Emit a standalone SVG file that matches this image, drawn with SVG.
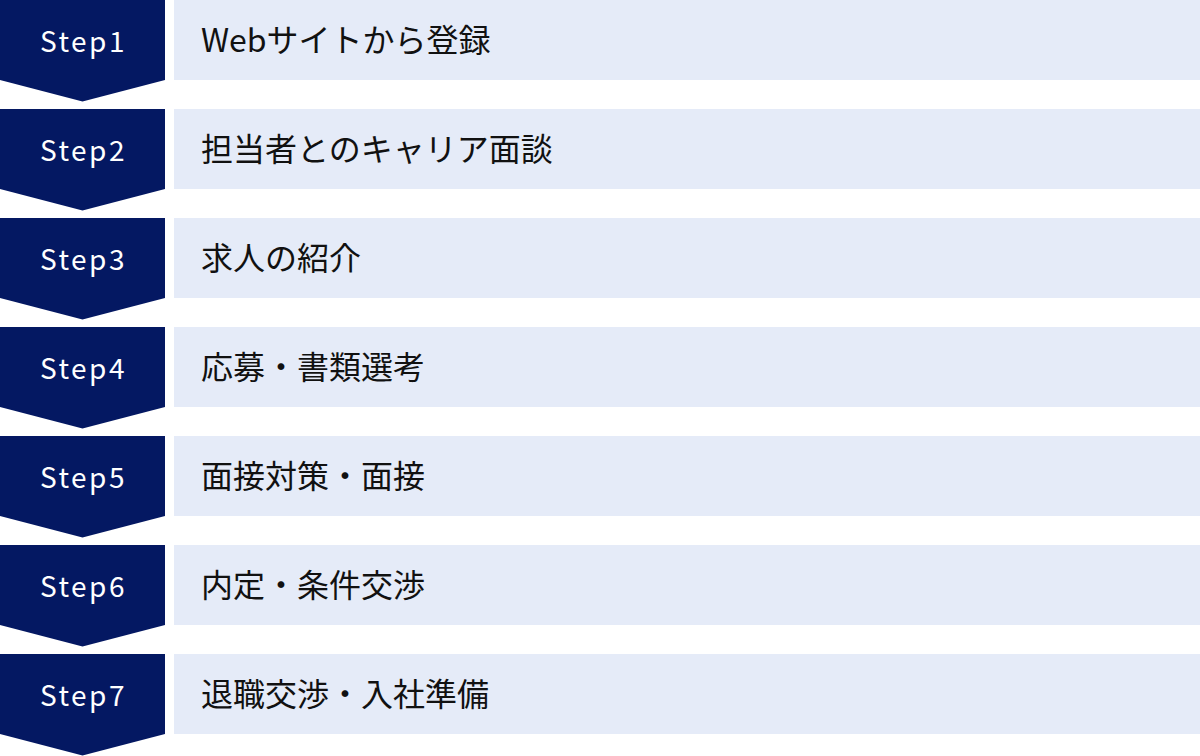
<svg xmlns="http://www.w3.org/2000/svg" width="1200" height="756" viewBox="0 0 1200 756">
<defs>
<style>
.chev{fill:#041862}
.box{fill:#E5EBF8}
.st{fill:#fff;font-family:"Noto Sans CJK JP","Noto Sans",sans-serif;font-size:28px;letter-spacing:2.5px;text-anchor:middle}
.lb{fill:#111;font-family:"Noto Sans CJK JP","Noto Sans",sans-serif;font-size:32px}
</style>
<path id="chevShape" d="M0 0H165V80L82.5 101.5L0 80Z"/>
</defs>
<rect width="1200" height="756" fill="#fff"/>
<g id="step1"><use href="#chevShape" class="chev"/><rect class="box" x="174" y="0" width="1026" height="80"/><text class="st" x="83.5" y="52">Step1</text><text class="lb" x="201" y="52">Webサイトから登録</text></g>
<g id="step2" transform="translate(0,109)"><use href="#chevShape" class="chev"/><rect class="box" x="174" y="0" width="1026" height="80"/><text class="st" x="83.5" y="52">Step2</text><text class="lb" x="201" y="52">担当者とのキャリア面談</text></g>
<g id="step3" transform="translate(0,218)"><use href="#chevShape" class="chev"/><rect class="box" x="174" y="0" width="1026" height="80"/><text class="st" x="83.5" y="52">Step3</text><text class="lb" x="201" y="52">求人の紹介</text></g>
<g id="step4" transform="translate(0,327)"><use href="#chevShape" class="chev"/><rect class="box" x="174" y="0" width="1026" height="80"/><text class="st" x="83.5" y="52">Step4</text><text class="lb" x="201" y="52">応募・書類選考</text></g>
<g id="step5" transform="translate(0,436)"><use href="#chevShape" class="chev"/><rect class="box" x="174" y="0" width="1026" height="80"/><text class="st" x="83.5" y="52">Step5</text><text class="lb" x="201" y="52">面接対策・面接</text></g>
<g id="step6" transform="translate(0,545)"><use href="#chevShape" class="chev"/><rect class="box" x="174" y="0" width="1026" height="80"/><text class="st" x="83.5" y="52">Step6</text><text class="lb" x="201" y="52">内定・条件交渉</text></g>
<g id="step7" transform="translate(0,654)"><use href="#chevShape" class="chev"/><rect class="box" x="174" y="0" width="1026" height="80"/><text class="st" x="83.5" y="52">Step7</text><text class="lb" x="201" y="52">退職交渉・入社準備</text></g>
<g id="connectors"/>
</svg>
